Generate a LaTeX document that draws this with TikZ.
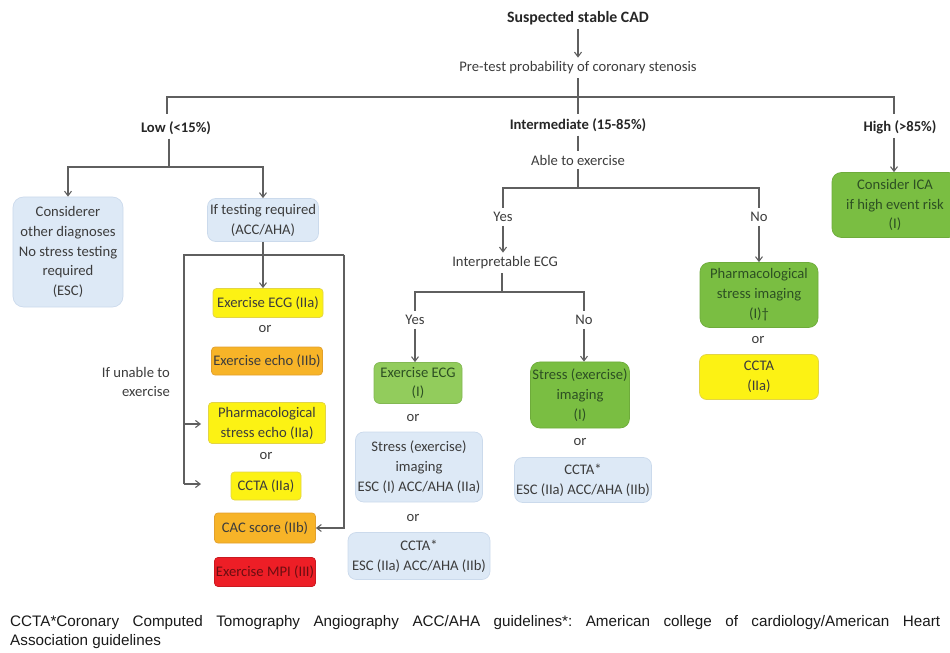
\documentclass[tikz,border=0pt]{standalone}
\usepackage{fontspec}
\setmainfont{Carlito}
\newfontfamily\footfont{Liberation Sans}
\usetikzlibrary{arrows.meta}

\definecolor{boxblue}{RGB}{221,233,246}
\definecolor{edgeblue}{RGB}{203,218,236}
\definecolor{boxyellow}{RGB}{252,242,20}
\definecolor{edgeyellow}{RGB}{226,212,70}
\definecolor{boxorange}{RGB}{247,180,40}
\definecolor{edgeorange}{RGB}{226,160,45}
\definecolor{boxred}{RGB}{237,30,38}
\definecolor{boxgreen}{RGB}{122,190,66}
\definecolor{boxlgreen}{RGB}{146,204,92}
\definecolor{linegray}{RGB}{95,95,95}
\definecolor{textgray}{RGB}{60,60,60}
\definecolor{textgreen}{RGB}{45,80,35}

\begin{document}
\begin{tikzpicture}[x=0.03cm,y=-0.03cm,
  font=\fontsize{12.5}{17}\selectfont,
  every node/.style={text=textgray},
  box/.style={rounded corners=5pt,align=center,inner sep=1pt,line width=0.6pt},
  bluebox/.style={box,rounded corners=7pt,fill=boxblue,draw=edgeblue},
  yellowbox/.style={box,rounded corners=3pt,fill=boxyellow,draw=edgeyellow},
  orangebox/.style={box,rounded corners=3pt,fill=boxorange,draw=edgeorange},
  redbox/.style={box,rounded corners=3pt,fill=boxred,draw=boxred!85!black,text=boxred!45!black},
  greenbox/.style={box,rounded corners=8pt,fill=boxgreen,draw=boxgreen!90!black,text=textgreen},
  lgreenbox/.style={box,fill=boxlgreen,draw=boxlgreen!90!black,text=textgreen},
  title/.style={font=\fontsize{12.5}{17}\selectfont\bfseries,text=black!85},
  conn/.style={draw=linegray,line width=0.9pt},
  arr/.style={conn,-{Straight Barb[length=4pt,width=6pt]}}]
\useasboundingbox (0,0) rectangle (950,653);

% top of the tree
\node[title,font=\fontsize{13.5}{17}\selectfont\bfseries] (cad) at (578,18) {Suspected stable CAD};
\node (pretest) at (578,68) {Pre-test probability of coronary stenosis};
\node[title] (low) at (176,128) {Low (<15\%)};
\node[title] (inter) at (578,125) {Intermediate (15-85\%)};
\node[title] (high) at (900,127) {High (>85\%)};
\coordinate (split) at (578,97);
\coordinate (lowend) at (167,114);
\coordinate (highend) at (894,114);

% low branch
\coordinate (lowsplit) at (169,167);
\node[bluebox,minimum width=3.3cm,minimum height=3.3cm,rounded corners=9pt] (other) at (68,252) {Considerer\\other diagnoses\\No stress testing\\required\\(ESC)};
\node[bluebox,minimum width=3.33cm,minimum height=1.29cm] (testreq) at (263,220) {If testing required\\(ACC/AHA)};
\node[yellowbox,minimum width=3.3cm,minimum height=0.87cm] (execg) at (268,303) {Exercise ECG (IIa)};
\node (or1) at (265,329) {or};
\node[orangebox,minimum width=3.33cm,minimum height=0.84cm] (execho) at (267,361) {Exercise echo (IIb)};
\node[anchor=east,align=right] (unable) at (174,382) {If unable to\\exercise};
\node[yellowbox,minimum width=3.51cm,minimum height=1.23cm] (pharmecho) at (267,423) {Pharmacological\\stress echo (IIa)};
\node (or2) at (266,456) {or};
\node[yellowbox,minimum width=2.1cm,minimum height=0.84cm] (ccta1) at (266,486) {CCTA (IIa)};
\node[orangebox,minimum width=3.03cm,minimum height=0.9cm] (cac) at (265,528) {CAC score (IIb)};
\node[redbox,minimum width=3.03cm,minimum height=0.87cm] (mpi) at (265,572) {Exercise MPI (III)};
\coordinate (fr1) at (184,255);
\coordinate (fr2) at (344,255);
\coordinate (frmid) at (184,424);
\coordinate (fr4) at (184,484);
\coordinate (arrA) at (201,424);
\coordinate (arrB) at (201,484);

% intermediate branch
\node (able) at (578,160) {Able to exercise};
\coordinate (ablesplit) at (578,188);
\node (yes1) at (503,217) {Yes};
\node (no1) at (759,217) {No};
\node (interp) at (505,263) {Interpretable ECG};
\coordinate (interpsplit) at (502,292);
\node (yes2) at (415,320) {Yes};
\node (no2) at (584,320) {No};
\node[lgreenbox,minimum width=2.64cm,minimum height=1.23cm] (execgi) at (418,383) {Exercise ECG\\(I)};
\node (or3) at (413,418) {or};
\node[bluebox,minimum width=3.81cm,minimum height=2.1cm] (stressa) at (419,467) {Stress (exercise)\\imaging\\ESC (I) ACC/AHA (IIa)};
\node (or4) at (413,518) {or};
\node[bluebox,minimum width=4.26cm,minimum height=1.41cm] (cctaa) at (419,556) {CCTA*\\ESC (IIa) ACC/AHA (IIb)};
\node[greenbox,minimum width=2.97cm,minimum height=1.98cm] (stressi) at (580,395) {Stress (exercise)\\imaging\\(I)};
\node (or5) at (580,442) {or};
\node[bluebox,minimum width=4.11cm,minimum height=1.35cm] (cctab) at (583,480) {CCTA*\\ESC (IIa) ACC/AHA (IIb)};
\node[greenbox,minimum width=3.54cm,minimum height=1.95cm] (pharmi) at (759,295) {Pharmacological\\stress imaging\\(I)†};
\node (or6) at (758,340) {or};
\node[yellowbox,minimum width=3.57cm,minimum height=1.35cm,rounded corners=6pt] (cctac) at (759,377) {CCTA\\(IIa)};

% high branch
\node[greenbox,minimum width=3.78cm,minimum height=1.95cm] (ica) at (895,205) {Consider ICA\\if high event risk\\(I)};

% footnote
\node[anchor=west,inner sep=0,text=black!90,font=\footfont\fontsize{13}{16}\selectfont] (foot1) at (10,623) {\frenchspacing\makebox[27.9cm][s]{CCTA*Coronary Computed Tomography Angiography ACC/AHA guidelines*: American college of cardiology/American Heart}};
\node[anchor=west,inner sep=0,text=black!90,font=\footfont\fontsize{13}{16}\selectfont] (foot2) at (10,642) {Association guidelines};

% connectors
\draw[arr] (cad) -- (pretest);
\draw[conn] (pretest) -- (inter);
\draw[conn] (lowend) |- (split) -| (highend);
\draw[arr] (high.south -| highend) -- (ica.north -| highend);
\draw[conn] (low.south -| lowsplit) -- (lowsplit);
\draw[arr] (lowsplit) -| (other.north);
\draw[arr] (lowsplit) -| (testreq.north);
\draw[arr] (testreq.south) -- (testreq.south |- execg.north);
\draw[conn] (fr4) -- (fr1) -- (fr2);
\draw[arr] (fr2) |- (cac.east);
\draw[arr] (frmid) -- (arrA);
\draw[arr] (fr4) -- (arrB);
\draw[conn] (inter) -- (able);
\draw[conn] (able) -- (ablesplit);
\draw[conn] (ablesplit) -| (yes1.north);
\draw[conn] (ablesplit) -| (no1.north);
\draw[arr] (yes1.south) -- (yes1.south |- interp.north);
\draw[arr] (no1) -- (pharmi);
\draw[conn] (interp.south -| interpsplit) -- (interpsplit);
\draw[conn] (interpsplit) -| (yes2.north);
\draw[conn] (interpsplit) -| (no2.north);
\draw[arr] (yes2.south) -- (yes2.south |- execgi.north);
\draw[arr] (no2.south) -- (no2.south |- stressi.north);
\end{tikzpicture}
\end{document}
